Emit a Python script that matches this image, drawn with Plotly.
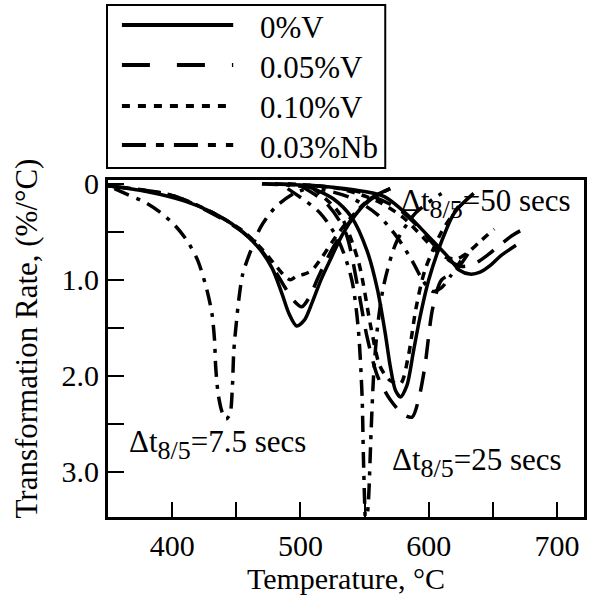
import plotly.graph_objects as go

# ---------------- data ----------------
# cooling time groups: 7.5 s, 25 s, 50 s ; compositions: 0%V, 0.05%V, 0.10%V, 0.03%Nb
v0_75_x = [350, 380, 410, 430, 450, 467, 478, 486, 491, 497, 503, 509, 516, 524, 533, 543, 555, 570]
v0_75_y = [0.02, 0.08, 0.18, 0.29, 0.45, 0.66, 0.88, 1.16, 1.35, 1.48, 1.42, 1.24, 1.0, 0.77, 0.52, 0.32, 0.15, 0.05]
v05_75_x = [350, 400, 430, 455, 470, 480, 488, 495, 501, 507, 513, 520, 530, 542, 556, 572]
v05_75_y = [0.02, 0.12, 0.3, 0.5, 0.7, 0.9, 1.08, 1.22, 1.28, 1.18, 1.0, 0.8, 0.56, 0.33, 0.15, 0.04]
v10_75_x = [350, 400, 430, 455, 470, 480, 487, 492, 497, 503, 509, 516, 526, 538, 552, 570]
v10_75_y = [0.02, 0.12, 0.29, 0.49, 0.68, 0.84, 0.95, 1.0, 0.96, 0.94, 0.9, 0.78, 0.58, 0.37, 0.18, 0.05]
nb_75_x = [355, 365, 380, 390, 402, 412, 420, 427, 431, 433, 434, 436, 439, 442, 445, 447, 448, 450, 452, 455, 462, 469, 480, 495, 510]
nb_75_y = [0.05, 0.11, 0.2, 0.29, 0.43, 0.6, 0.8, 1.1, 1.35, 1.62, 1.92, 2.2, 2.38, 2.45, 2.4, 2.1, 1.75, 1.45, 1.2, 0.94, 0.67, 0.45, 0.25, 0.1, 0.03]

v0_25_x = [505, 525, 540, 552, 560, 566, 570, 574, 578, 583, 588, 593, 600, 610, 620, 635]
v0_25_y = [0.02, 0.15, 0.35, 0.7, 1.1, 1.55, 1.9, 2.15, 2.22, 2.1, 1.75, 1.4, 1.0, 0.6, 0.3, 0.1]
v05_25_x = [500, 520, 535, 545, 552, 560, 570, 580, 587, 592, 597, 603, 610, 620, 631]
v05_25_y = [0.02, 0.2, 0.5, 1.1, 1.6, 2.0, 2.25, 2.4, 2.43, 2.25, 1.9, 1.3, 1.0, 0.92, 0.72]
v10_25_x = [510, 530, 545, 555, 562, 570, 578, 584, 590, 597, 610, 625]
v10_25_y = [0.05, 0.3, 0.8, 1.5, 1.9, 2.05, 2.08, 1.8, 1.3, 0.9, 0.5, 0.2]
nb_25_x = [490, 515, 530, 540, 545, 548, 549, 550, 551, 553, 555, 557, 560, 565, 575, 590, 610]
nb_25_y = [0.05, 0.3, 0.6, 1.0, 1.5, 2.2, 2.8, 3.3, 3.6, 3.3, 2.6, 2.0, 1.5, 1.05, 0.6, 0.3, 0.1]

v0_50_x = [470, 510, 540, 565, 584, 600, 615, 624, 632, 640, 648, 656, 668]
v0_50_y = [0.0, 0.02, 0.06, 0.13, 0.33, 0.55, 0.76, 0.9, 0.94, 0.92, 0.85, 0.75, 0.64]
v05_50_x = [480, 520, 550, 575, 592, 605, 616, 626, 636, 646, 656, 666, 677]
v05_50_y = [0.0, 0.03, 0.1, 0.25, 0.45, 0.65, 0.8, 0.86, 0.83, 0.74, 0.63, 0.53, 0.45]
v10_50_x = [490, 530, 560, 580, 595, 606, 614, 622, 630, 640, 651]
v10_50_y = [0.0, 0.05, 0.18, 0.35, 0.55, 0.7, 0.77, 0.78, 0.72, 0.6, 0.47]
nb_50_x = [470, 510, 540, 560, 575, 587, 596, 603, 610, 617, 625]
nb_50_y = [0.0, 0.04, 0.15, 0.32, 0.55, 0.8, 1.02, 1.12, 1.08, 0.96, 0.8]

series_names = ["0%V", "0.05%V", "0.10%V", "0.03%Nb"]
x_tick_vals = [400, 500, 600, 700]
x_tick_text = ["400", "500", "600", "700"]
y_tick_vals = [0, 1.0, 2.0, 3.0]
y_tick_text = ["0", "1.0", "2.0", "3.0"]

# ---------------- styles ----------------
FONT = "Liberation Serif"
dash_curve = {"0%V": "solid", "0.05%V": "20px,13px", "0.10%V": "8px,7px", "0.03%Nb": "16px,8px,4px,8px"}
dash_legend = {"0%V": "solid", "0.05%V": "28px,27px", "0.10%V": "8px,8px", "0.03%Nb": "24px,10px,8px,10px"}
LW = 3.5

groups = [
    (series_names[0], v0_75_x, v0_75_y), (series_names[1], v05_75_x, v05_75_y),
    (series_names[2], v10_75_x, v10_75_y), (series_names[3], nb_75_x, nb_75_y),
    (series_names[0], v0_25_x, v0_25_y), (series_names[1], v05_25_x, v05_25_y),
    (series_names[2], v10_25_x, v10_25_y), (series_names[3], nb_25_x, nb_25_y),
    (series_names[0], v0_50_x, v0_50_y), (series_names[1], v05_50_x, v05_50_y),
    (series_names[2], v10_50_x, v10_50_y), (series_names[3], nb_50_x, nb_50_y),
]

fig = go.Figure()
for name, xs, ys in groups:
    fig.add_trace(go.Scatter(
        x=xs, y=ys, mode="lines", name=name, showlegend=False,
        line=dict(color="black", width=LW, dash=dash_curve[name], shape="spline", smoothing=0.8),
    ))

# plot area in pixels
W, H = 592, 597
L, R, T, B = 108, 587, 180, 517

def pxx(x):
    return (x - L) / (R - L)

def pyy(y):
    return (B - y) / (B - T)

shapes = []
# legend box
shapes.append(dict(type="rect", xref="paper", yref="paper",
                   x0=pxx(107), x1=pxx(387), y0=pyy(168), y1=pyy(5),
                   line=dict(color="black", width=2)))
annotations = []
legend_rows = [25, 65, 106, 145]
for name, ry in zip(series_names, legend_rows):
    shapes.append(dict(type="line", xref="paper", yref="paper",
                       x0=pxx(122), x1=pxx(234), y0=pyy(ry), y1=pyy(ry),
                       line=dict(color="black", width=4, dash=dash_legend[name])))
    annotations.append(dict(xref="paper", yref="paper", x=pxx(259), y=pyy(ry + 2),
                            xanchor="left", yanchor="middle", showarrow=False,
                            text=name, font=dict(family=FONT, size=31, color="black")))

SUB = "<sub><span style='font-size:26px'>8/5</span></sub>"
for txt, ax, ay in [("Δt" + SUB + "=50 secs", 577, 0.2),
                    ("Δt" + SUB + "=7.5 secs", 365, 2.72),
                    ("Δt" + SUB + "=25 secs", 570, 2.9)]:
    annotations.append(dict(x=ax, y=ay, xref="x", yref="y", xanchor="left", yanchor="middle",
                            showarrow=False, text=txt,
                            font=dict(family=FONT, size=31, color="black")))

# y-axis title
annotations.append(dict(xref="paper", yref="paper", x=pxx(25), y=pyy(339),
                        xanchor="center", yanchor="middle", textangle=-90, showarrow=False,
                        text="Transformation Rate, (%/°C)",
                        font=dict(family=FONT, size=31, color="black")))

fig.update_layout(
    width=W, height=H,
    margin=dict(l=L, r=W - R, t=T, b=H - B),
    paper_bgcolor="white", plot_bgcolor="white",
    font=dict(family=FONT, color="black", size=29),
    shapes=shapes, annotations=annotations,
    showlegend=False,
)
fig.update_xaxes(
    range=[350, 721], tickmode="array", tickvals=x_tick_vals, ticktext=x_tick_text,
    ticks="inside", ticklen=15, tickwidth=1.5, tickcolor="black",
    minor=dict(ticks="inside", ticklen=15, tickwidth=1.5, tickcolor="black", dtick=50, tick0=0, showgrid=False),
    showline=True, linewidth=3, linecolor="black", mirror=True,
    showgrid=False, zeroline=False,
    tickfont=dict(family=FONT, size=30, color="black"),
    title=dict(text="Temperature, °C", font=dict(family=FONT, size=30, color="black"), standoff=0),
)
fig.update_yaxes(
    range=[3.47, -0.04], tickmode="array", tickvals=y_tick_vals, ticktext=y_tick_text,
    ticks="inside", ticklen=16, tickwidth=1.5, tickcolor="black",
    minor=dict(ticks="inside", ticklen=16, tickwidth=1.5, tickcolor="black", dtick=0.5, tick0=0, showgrid=False),
    showline=True, linewidth=3, linecolor="black", mirror=True,
    showgrid=False, zeroline=False,
    tickfont=dict(family=FONT, size=30, color="black"),
)

fig.write_html("out.html")
